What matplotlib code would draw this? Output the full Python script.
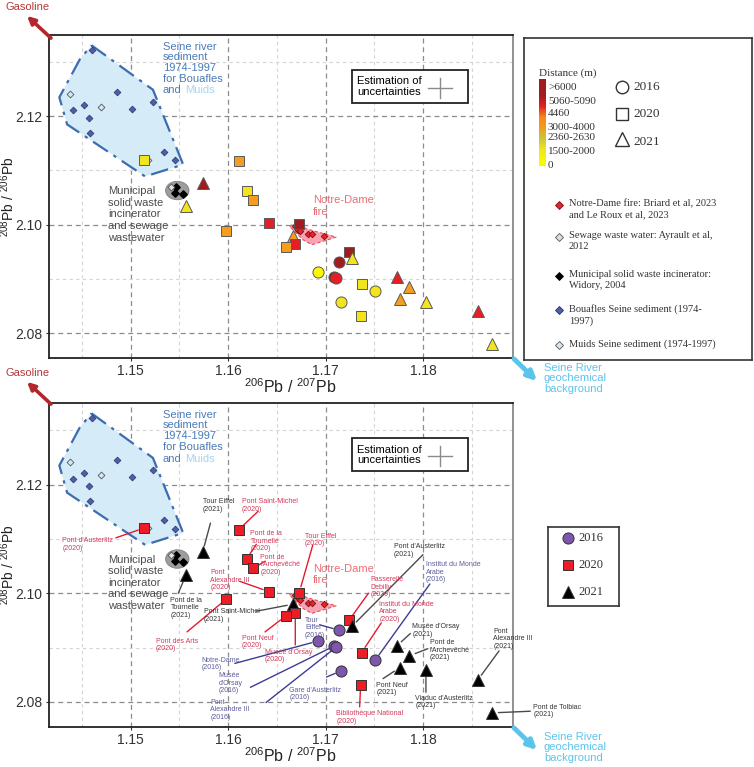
import matplotlib.pyplot as plt
from matplotlib.colors import to_rgb
from matplotlib.patches import Polygon, Ellipse, Rectangle, FancyArrowPatch
from matplotlib.ticker import FormatStrFormatter

plt.rcParams['font.family'] = ['Liberation Sans', 'DejaVu Sans']
plt.rcParams['mathtext.default'] = 'regular'
SERIF = ['Liberation Serif', 'DejaVu Serif']

# ---------------- data ----------------
sites = ["Pont d'Austerlitz", "Pont Saint-Michel", "Tour Eiffel", "Pont de la Tournelle",
         "Pont de l'Archevêché", "Pont de la Tournelle", "Pont des Arts", "Pont Alexandre III",
         "Tour Eiffel", "Pont Saint-Michel", "Musée d'Orsay", "Pont Neuf",
         "Passerelle Debilly", "Pont d'Austerlitz", "Tour Eiffel", "Notre-Dame",
         "Musée d'Orsay", "Pont Alexandre III", "Gare d'Austerlitz", "Institut du Monde Arabe",
         "Institut du Monde Arabe", "Bibliothèque National", "Musée d'Orsay", "Pont de l'Archevêché",
         "Pont Neuf", "Viaduc d'Austerlitz", "Pont Alexandre III", "Pont de Tolbiac"]
years = [2020, 2020, 2021, 2020, 2020, 2021, 2020, 2020,
         2020, 2021, 2020, 2020, 2020, 2021, 2016, 2016,
         2016, 2016, 2016, 2016, 2020, 2020, 2021, 2021,
         2021, 2021, 2021, 2021]
distance = ["1500-2000", "3000-4000", ">6000", "1500-2000", "3000-4000", "1500-2000", "3000-4000", "5060-5090",
            ">6000", "3000-4000", "5060-5090", "3000-4000", ">6000", "1500-2000", ">6000", "0",
            ">6000", "5060-5090", "1500-2000", "1500-2000", "1500-2000", "1500-2000", "5060-5090", "3000-4000",
            "3000-4000", "1500-2000", "5060-5090", "1500-2000"]
pb206_207 = [1.1514, 1.1611, 1.1574, 1.1619, 1.1626, 1.1557, 1.1598, 1.1642,
             1.1673, 1.1667, 1.1669, 1.1659, 1.1724, 1.1727, 1.1714, 1.1692,
             1.1709, 1.1711, 1.1716, 1.1751, 1.1737, 1.1736, 1.1773, 1.1786,
             1.1776, 1.1803, 1.1856, 1.1871]
pb208_206 = [2.1120, 2.1117, 2.1076, 2.1063, 2.1046, 2.1034, 2.0989, 2.1003,
             2.1001, 2.0980, 2.0964, 2.0958, 2.0950, 2.0939, 2.0932, 2.0912,
             2.0903, 2.0901, 2.0857, 2.0877, 2.0891, 2.0831, 2.0903, 2.0885,
             2.0863, 2.0858, 2.0840, 2.0780]
point_labels = ["Pont d'Austerlitz\n(2020)", "Pont Saint-Michel\n(2020)", "Tour Eiffel\n(2021)",
                "Pont de la\nTournelle\n(2020)", "Pont de\nl'Archevêché\n(2020)", "Pont de la\nTournelle\n(2021)",
                "Pont des Arts\n(2020)", "Pont\nAlexandre III\n(2020)", "Tour Eiffel\n(2020)",
                "Pont Saint-Michel\n(2021)", "Musée d'Orsay\n(2020)", "Pont Neuf\n(2020)",
                "Passerelle\nDebilly\n(2020)", "Pont d'Austerlitz\n(2021)", "Tour\nEiffel\n(2016)",
                "Notre-Dame\n(2016)", "Musée\nd'Orsay\n(2016)", "Pont\nAlexandre III\n(2016)",
                "Gare d'Austerlitz\n(2016)", "Institut du Monde\nArabe\n(2016)", "Institut du Monde\nArabe\n(2020)",
                "Bibliothèque National\n(2020)", "Musée d'Orsay\n(2021)", "Pont de\nl'Archevêché\n(2021)",
                "Pont Neuf\n(2021)", "Viaduc d'Austerlitz\n(2021)", "Pont\nAlexandre III\n(2021)",
                "Pont de Tolbiac\n(2021)"]

# literature end-members
bouafles_x = [1.1460, 1.1486, 1.1441, 1.1452, 1.1502, 1.1523, 1.1457, 1.1458, 1.1534, 1.1546]
bouafles_y = [2.1323, 2.1245, 2.1211, 2.1221, 2.1214, 2.1227, 2.1197, 2.1169, 2.1135, 2.1119]
muids_x = [1.1438, 1.1470, 1.1518]
muids_y = [2.1242, 2.1218, 2.1120]
incin_x = [1.1547, 1.1546, 1.1554]
incin_y = [2.1070, 2.1059, 2.1057]
sewage_x = [1.1542]
sewage_y = [2.1070]
nd_fire_x = [1.1669, 1.1672, 1.1674, 1.1682, 1.1686, 1.1698]
nd_fire_y = [2.0997, 2.0991, 2.0988, 2.0983, 2.0983, 2.0980]
seine_hull_x = [1.1460, 1.1523, 1.1554, 1.1515, 1.1435, 1.1427, 1.1448]
seine_hull_y = [2.1331, 2.1249, 2.1111, 2.1089, 2.1185, 2.1235, 2.1305]
nd_hull_x = [1.1663, 1.1669, 1.1681, 1.1711, 1.1686, 1.1677]
nd_hull_y = [2.0997, 2.1003, 2.0992, 2.0977, 2.0963, 2.0972]

dist_classes = [">6000", "5060-5090", "4460", "3000-4000", "2360-2630", "1500-2000", "0"]
dist_colors = ["#a11c1e", "#e61e25", "#f2891c", "#f49d1f", "#c9c63a", "#f2e51e", "#fbf800"]
year_list = [2016, 2020, 2021]
year_markers = {2016: 'o', 2020: 's', 2021: '^'}
year_sizes = {2016: 8, 2020: 7, 2021: 9}
year_colors = {2016: '#7e56ae', 2020: '#ee1c25', 2021: '#000000'}
label_colors = {2016: '#5c5c9c', 2020: '#d3385a', 2021: '#333333'}
line_colors = {2016: '#3c3c96', 2020: '#e41a30', 2021: '#4a4a4a'}

# ---------------- layout ----------------
XLIM = (1.14164, 1.18923)
YLIM = (2.0754, 2.1350)
label_xy = [(1.1430, 2.1103), (1.1614, 2.1175), (1.1574, 2.1175), (1.1623, 2.1116), (1.1633, 2.1073),
            (1.1541, 2.0994), (1.1526, 2.0918), (1.1582, 2.1044), (1.1679, 2.1111), (1.1575, 2.0972),
            (1.1638, 2.0898), (1.1614, 2.0924), (1.1746, 2.1031), (1.1770, 2.1092), (1.1679, 2.0957),
            (1.1573, 2.0883), (1.1590, 2.0855), (1.1582, 2.0806), (1.1663, 2.0828), (1.1803, 2.1059),
            (1.1755, 2.0986), (1.1711, 2.0785), (1.1789, 2.0945), (1.1807, 2.0915), (1.1752, 2.0837),
            (1.1792, 2.0813), (1.1872, 2.0937), (1.1913, 2.0797)]
leader_start = [(1.1485, 2.1102), (1.1631, 2.1151), (1.1582, 2.1129), (1.1629, 2.1090), (1.1638, 2.1059),
                (1.1549, 2.1000), (1.1558, 2.0929), (1.1612, 2.1022), (1.1687, 2.1089), (1.1629, 2.0967),
                (1.1669, 2.0905), (1.1638, 2.0929), (1.1744, 2.1000), (1.1800, 2.1071), (1.1694, 2.0942),
                (1.1607, 2.0871), (1.1623, 2.0827), (1.1639, 2.0799), (1.1701, 2.0846), (1.1807, 2.1017),
                (1.1757, 2.0945), (1.1735, 2.0791), (1.1787, 2.0926), (1.1805, 2.0898), (1.1759, 2.0843),
                (1.1803, 2.0818), (1.1878, 2.0894), (1.1910, 2.0783)]

W, H = 754, 767
fig = plt.figure(figsize=(W / 100, H / 100), dpi=100)


def fig_axes(x0, y0, x1, y1):
    return fig.add_axes([x0 / W, 1 - y1 / H, (x1 - x0) / W, (y1 - y0) / H])


def P(x, y):
    return (x / W, 1 - y / H)


def draw_base(ax):
    ax.set_xlim(XLIM)
    ax.set_ylim(YLIM)
    ax.set_xticks([1.15, 1.16, 1.17, 1.18])
    ax.set_xticks([1.145, 1.155, 1.165, 1.175, 1.185], minor=True)
    ax.set_yticks([2.08, 2.10, 2.12])
    ax.set_yticks([2.09, 2.11, 2.13], minor=True)
    ax.xaxis.set_major_formatter(FormatStrFormatter('%.2f'))
    ax.yaxis.set_major_formatter(FormatStrFormatter('%.2f'))
    ax.tick_params(which='minor', length=0)
    ax.tick_params(which='major', length=2.5, labelsize=10, colors='#333333', pad=2)
    ax.grid(which='major', ls=(0, (4, 3)), color='#8c8c8c', lw=0.9)
    ax.grid(which='minor', ls=(0, (3, 3)), color='#d4d4d4', lw=0.8)
    ax.set_axisbelow(True)
    for s in ['left', 'bottom', 'top']:
        ax.spines[s].set_color('#222222')
        ax.spines[s].set_linewidth(1.3)
    ax.spines['right'].set_color('#888888')
    ax.spines['right'].set_linewidth(1.3)
    ax.set_xlabel('$^{206}$Pb / $^{207}$Pb', fontsize=11.5, color='#222222')
    ax.set_ylabel('$^{208}$Pb / $^{206}$Pb', fontsize=10, color='#222222')
    ax.xaxis.set_label_coords(0.52, -0.06)
    ax.yaxis.set_label_coords(-0.068, 0.5)

    ax.add_patch(Polygon(list(zip(seine_hull_x, seine_hull_y)), closed=True, fc='#d5ebf8',
                         ec='#3c6db0', ls=(0, (8, 3, 1.5, 3)), lw=1.6, zorder=1))
    ax.add_patch(Polygon(list(zip(nd_hull_x, nd_hull_y)), closed=True, fc='#f7a3b3',
                         ec='#ea4f5a', ls=(0, (3, 2)), lw=0.8, zorder=1))
    ax.add_patch(Ellipse((1.1548, 2.1063), 0.0024, 0.0034, fc='#9d9d9d', ec='#808080', lw=0.6, zorder=1))
    ax.scatter(bouafles_x, bouafles_y, marker='D', s=12, c='#4f5ea6', edgecolors='#26306a', lw=0.5, zorder=3)
    ax.scatter(muids_x, muids_y, marker='D', s=12, c='#d2e8f8', edgecolors='#555555', lw=0.6, zorder=3)
    ax.scatter(incin_x, incin_y, marker='D', s=14, c='#000000', zorder=3)
    ax.scatter(sewage_x, sewage_y, marker='D', s=12, c='#e0e0e0', edgecolors='#555555', lw=0.6, zorder=3)
    ax.scatter(nd_fire_x, nd_fire_y, marker='D', s=11, c='#e8232a', edgecolors='#7a1015', lw=0.6, zorder=4)

    ax.text(1.1533, 2.1338, "Seine river\nsediment\n1974-1997\nfor Bouafles", fontsize=8,
            color='#4a7bb7', va='top', ha='left', linespacing=1.1)
    t_and = ax.text(1.1533, 2.1257, "and", fontsize=8, color='#4a7bb7', va='top', ha='left')
    ax.annotate("Muids", xy=(1, 0), xycoords=t_and, xytext=(2.3, 0), textcoords='offset points',
                fontsize=8, color='#a6d4f0', va='bottom', ha='left')
    ax.text(1.1477, 2.1071, "Municipal\nsolid waste\nincinerator\nand sewage\nwastewater", fontsize=8,
            color='#4d4d4d', va='top', ha='left', linespacing=1.2)
    ax.text(1.1687, 2.1054, "Notre-Dame\nfire", fontsize=8, color='#ea6e73', va='top', ha='left',
            linespacing=1.15)

    ax.add_patch(Rectangle((0.653, 0.789), 0.25, 0.103, transform=ax.transAxes, fc='white',
                           ec='#222222', lw=1.3, zorder=5))
    ax.text(0.664, 0.84, "Estimation of\nuncertainties", transform=ax.transAxes, fontsize=8,
            va='center', ha='left', linespacing=1.05, zorder=6)
    ax.plot([0.817, 0.869], [0.836, 0.836], transform=ax.transAxes, color='#8a8a8a', lw=1, zorder=6)
    ax.plot([0.843, 0.843], [0.805, 0.867], transform=ax.transAxes, color='#8a8a8a', lw=1, zorder=6)


ax_top = fig_axes(49, 35, 513, 358)
ax_bot = fig_axes(49, 403, 513, 727)
draw_base(ax_top)
draw_base(ax_bot)

dist_color = dict(zip(dist_classes, dist_colors))
for i in range(len(sites)):
    yr = years[i]
    ax_top.plot(pb206_207[i], pb208_206[i], marker=year_markers[yr], ms=year_sizes[yr], ls='none',
                mfc=dist_color[distance[i]], mec='#5a5a5a', mew=0.7, zorder=6)
    ax_bot.plot(pb206_207[i], pb208_206[i], marker=year_markers[yr], ms=year_sizes[yr], ls='none',
                mfc=year_colors[yr], mec='#333333', mew=0.7, zorder=6)
    ax_bot.annotate('', xy=(pb206_207[i], pb208_206[i]), xytext=leader_start[i],
                    arrowprops=dict(arrowstyle='-', color=line_colors[yr], lw=1.0, shrinkA=0, shrinkB=4.5),
                    annotation_clip=False, zorder=5)
    ax_bot.text(label_xy[i][0], label_xy[i][1], point_labels[i], fontsize=5, color=label_colors[yr],
                va='top', ha='left', linespacing=1.1, zorder=7)

# arrows outside the plots
for ytop, ybot in [(0, 0), (366, 369)]:
    fig.add_artist(FancyArrowPatch(P(53, 40 + ytop), P(25, 14 + ytop), transform=fig.transFigure,
                                   arrowstyle='-|>', mutation_scale=11, lw=2.6, color='#b3262b'))
    fig.text(*P(28, 7 + ytop), "Gasoline", fontsize=8, color='#b5373c', ha='center', va='center')
    fig.add_artist(FancyArrowPatch(P(512, 357 + ybot), P(539, 383 + ybot), transform=fig.transFigure,
                                   arrowstyle='-|>', mutation_scale=13, lw=3.5, color='#5bc4ea'))
    fig.text(*P(544, 363 + ybot), "Seine River\ngeochemical\nbackground", fontsize=8, color='#5bc4ea',
             ha='left', va='top', linespacing=1.05)

# legend of the top panel
lax = fig_axes(524, 38, 752, 360)
lax.set_xticks([])
lax.set_yticks([])
for s in lax.spines.values():
    s.set_color('#333333')
    s.set_linewidth(1.2)
bar_rgb = [[to_rgb(c)] for c in dist_colors[:1] + dist_colors]
lax.imshow(bar_rgb, extent=(539, 546, 166, 79), aspect='auto', interpolation='bilinear')
lax.set_xlim(524, 752)
lax.set_ylim(360, 38)
lax.text(539, 73, "Distance (m)", family=SERIF, fontsize=8, color='#333333', va='center', ha='left')
for lab, yy in zip(dist_classes, [88, 101, 114, 127, 138, 151, 165]):
    lax.text(548, yy, lab, family=SERIF, fontsize=8, color='#333333', va='center', ha='left')
for yr, yy in zip(year_list, [87, 114, 139]):
    lax.plot(622, yy, marker=year_markers[yr], ms=year_sizes[yr] + 1, mfc='white', mec='#333333', mew=1)
    lax.text(633, yy + (3 if yr == 2021 else 0), str(yr), family=SERIF, fontsize=9.5, color='#333333',
             va='center', ha='left')
ref_entries = [("Notre-Dame fire: Briard et al, 2023\nand Le Roux et al, 2023", '#e8232a', '#7a1015', 205),
               ("Sewage waste water: Ayrault et al,\n2012", '#e0e0e0', '#555555', 237),
               ("Municipal solid waste incinerator:\nWidory, 2004", '#000000', '#000000', 276),
               ("Bouafles Seine sediment (1974-\n1997)", '#4f5ea6', '#26306a', 310),
               ("Muids Seine sediment (1974-1997)", '#d2e8f8', '#555555', 345)]
for txt, fc, ec, yy in ref_entries:
    lax.plot(559, yy, marker='D', ms=3.6, mfc=fc, mec=ec, mew=0.6)
    lax.text(569, yy - 6, txt, family=SERIF, fontsize=7.5, color='#333333', va='top', ha='left',
             linespacing=1.3)

# legend of the bottom panel
bax = fig_axes(548, 527, 619, 606)
bax.set_xlim(548, 619)
bax.set_ylim(606, 527)
bax.set_xticks([])
bax.set_yticks([])
for s in bax.spines.values():
    s.set_color('#333333')
    s.set_linewidth(1.2)
for yr, yy in zip(year_list, [538, 565, 592]):
    bax.plot(568, yy, marker=year_markers[yr], ms=year_sizes[yr], mfc=year_colors[yr], mec='#333333', mew=0.7)
    bax.text(578, yy, str(yr), family=SERIF, fontsize=9, color='#333333', va='center', ha='left')

fig.savefig('out.png', dpi=100)
